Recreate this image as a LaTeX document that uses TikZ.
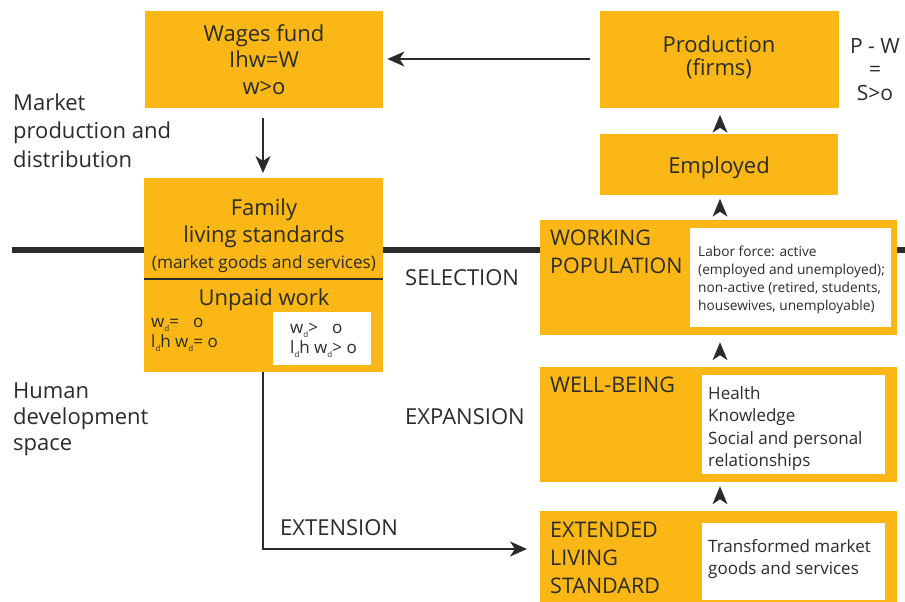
\documentclass[tikz,border=0pt]{standalone}
\usepackage{fontspec}
\setmainfont{Open Sans}
\usetikzlibrary{arrows.meta}
\definecolor{gold}{HTML}{FAB715}
\definecolor{ink}{HTML}{2B2B2B}
\newcommand\subd{\raisebox{-0.45ex}{\fontsize{8}{8}\selectfont d}}
\begin{document}
\begin{tikzpicture}[x=1pt,y=-1pt,
  box/.style={fill=gold, draw=none, anchor=north west, inner sep=0pt},
  panel/.style={fill=white, draw=none, anchor=north west, inner sep=0pt},
  big/.style={text=ink, inner sep=0pt, align=center, font=\fontsize{22}{27}\selectfont},
  bigl/.style={text=ink, inner sep=0pt, align=left, font=\fontsize{21.5}{28}\selectfont},
  side/.style={text=ink, inner sep=0pt, align=left, font=\fontsize{22}{28.5}\selectfont},
  small/.style={text=ink, inner sep=0pt, align=left, font=\fontsize{13.7}{18}\selectfont},
  mid/.style={text=ink, inner sep=0pt, align=left, font=\fontsize{17}{22.5}\selectfont},
  formula/.style={text=ink, inner sep=0pt, align=left, font=\fontsize{17}{20}\selectfont},
  conn/.style={draw=ink, line width=2.2pt, -{Stealth[length=17pt,width=15pt,inset=5pt]}},
  stealthup/.pic={\fill[ink] (0,-9) -- (7.5,9) -- (0,4) -- (-7.5,9) -- cycle;},
]
\useasboundingbox (0,0) rectangle (905,602);

% boundary between the two spaces
\coordinate (axisL) at (12,250);
\coordinate (axisR) at (905,250);
\draw[line width=6pt, ink] (axisL) -- (axisR);

% left column
\node[box, minimum width=238pt, minimum height=97pt] (wages) at (145,11) {};
\node[big, anchor=base] (wagesT) at (264,95) {Wages fund\\Ihw=W\\w>o};

\node[box, minimum width=239pt, minimum height=194pt] (family) at (144,178) {};
\node[big, anchor=base] (familyT) at (264,242) {Family\\living standards};
\node[text=ink, inner sep=0pt, font=\fontsize{17.2}{20}\selectfont, anchor=base] (marketT) at (264,268) {(market goods and services)};
\coordinate (divL) at (144,279);
\coordinate (divR) at (383,279);
\draw[ink, line width=1.3pt] (divL) -- (divR);
\node[text=ink, inner sep=0pt, font=\fontsize{22}{24}\selectfont, anchor=base] (unpaidT) at (264,305) {Unpaid work};
\node[formula, anchor=base west] (wdzero) at (151,347) {w\subd=\hspace{14pt}o\\l\subd h w\subd= o};
\node[panel, minimum width=98pt, minimum height=53pt] (wdpanel) at (273,312) {};
\node[formula, anchor=base west] (wdpos) at (290,353) {w\subd>\hspace{14pt}o\\l\subd h w\subd> o};

% right column
\node[box, minimum width=239pt, minimum height=97pt] (prod) at (600,11) {};
\node[text=ink, inner sep=0pt, align=center, font=\fontsize{22}{24}\selectfont, anchor=base] (prodT) at (719,76) {Production\\(firms)};
\node[text=ink, inner sep=0pt, align=center, font=\fontsize{21}{23.5}\selectfont, anchor=base] (surplus) at (875,100) {P - W\\=\\S>o};

\node[box, minimum width=238pt, minimum height=61pt] (emp) at (600,134) {};
\node[big, anchor=base] (empT) at (719,173) {Employed};

\node[box, minimum width=357pt, minimum height=115pt] (work) at (540,220) {};
\node[bigl, anchor=base west] (workT) at (550,273) {WORKING\\POPULATION};
\node[panel, minimum width=201pt, minimum height=99pt] (workP) at (690,228) {};
\node[small, anchor=base west] (workD) at (698,310) {Labor force: active\\(employed and unemployed);\\non-active (retired, students,\\housewives, unemployable)};

\node[box, minimum width=357pt, minimum height=115pt] (well) at (540,367) {};
\node[bigl, anchor=base west] (wellT) at (550,392) {WELL-BEING};
\node[panel, minimum width=183pt, minimum height=99pt] (wellP) at (702,375) {};
\node[mid, anchor=base west] (wellD) at (708,466.5) {Health\\Knowledge\\Social and personal\\relationships};

\node[box, minimum width=357pt, minimum height=91pt] (ext) at (540,511) {};
\node[bigl, anchor=base west] (extT) at (550,593) {EXTENDED\\LIVING\\STANDARD};
\node[panel, minimum width=183pt, minimum height=77pt] (extP) at (702,523) {};
\node[mid, anchor=base west, font=\fontsize{17}{22}\selectfont] (extD) at (708,574) {Transformed market\\goods and services};

% side captions
\node[side, anchor=base west] (mkt) at (13,167) {Market\\production and\\distribution};
\node[side, anchor=base west, font=\fontsize{22}{26}\selectfont] (hds) at (13,450) {Human\\development\\space};
\node[side, anchor=base west] (sel) at (405,285) {SELECTION};
\node[side, anchor=base west] (expn) at (405,424) {EXPANSION};
\node[side, anchor=base west] (extn) at (280,535) {EXTENSION};

% connectors
\draw[conn, shorten <=10pt, shorten >=4pt] (prod.west |- 0,59) -- (wages.east |- 0,59);
\draw[conn, shorten <=10pt, shorten >=5pt] (wages.south -| 263,0) -- (family.north -| 263,0);
\coordinate (extCorner) at (263,549);
\draw[conn, shorten >=13pt] (family.south -| 263,0) -- (extCorner) -- (ext.west |- extCorner);

% upward tips between the stacked boxes
\path (emp.north -| 720,0) -- (prod.south -| 720,0) pic[pos=0.4]{stealthup};
\path (work.north -| 720,0) -- (emp.south -| 720,0) pic[pos=0.5]{stealthup};
\path (well.north -| 720,0) -- (work.south -| 720,0) pic[pos=0.5]{stealthup};
\path (ext.north -| 720,0) -- (well.south -| 720,0) pic[pos=0.55]{stealthup};
\end{tikzpicture}
\end{document}
